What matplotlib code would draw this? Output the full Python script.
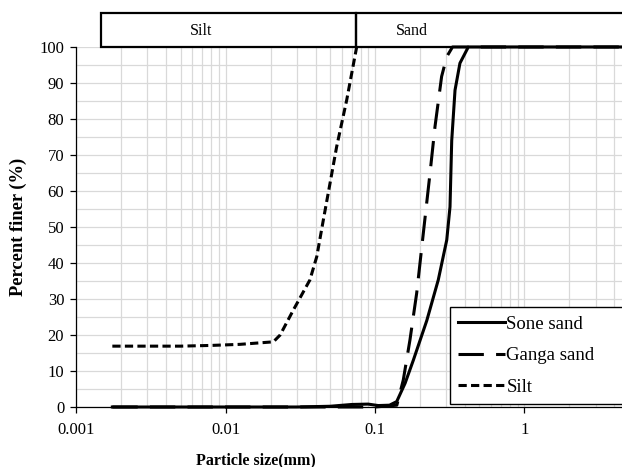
import matplotlib
matplotlib.use("Agg")
import matplotlib.pyplot as plt
from matplotlib.patches import Rectangle
from matplotlib.ticker import FixedLocator, LogLocator, NullFormatter

# grain size distribution curves
silt_size = [0.00175, 0.003, 0.005, 0.008, 0.0125, 0.0209, 0.0232, 0.0284,
             0.0367, 0.0408, 0.0451, 0.050, 0.0554, 0.0647, 0.0754]
silt_finer = [16.9, 16.9, 16.9, 17.1, 17.4, 18.1, 20.0, 26.9,
              35.3, 41.8, 51.9, 62.1, 72.3, 85.3, 100.0]

sone_size = [0.00175, 0.03, 0.05, 0.07, 0.09, 0.105, 0.125, 0.1397, 0.159,
             0.1805, 0.222, 0.265, 0.302, 0.3175, 0.326, 0.343, 0.370,
             0.421, 1.0, 2.0, 4.75]
sone_finer = [0.0, 0.0, 0.2, 0.7, 0.8, 0.4, 0.5, 1.5, 6.6,
              13.0, 24.0, 35.3, 46.4, 55.6, 74.0, 88.0, 95.5,
              100.0, 100.0, 100.0, 100.0]

ganga_size = [0.00175, 0.05, 0.1, 0.14, 0.1546, 0.1713, 0.190, 0.2104,
              0.2333, 0.252, 0.279, 0.302, 0.33, 1.0, 4.75]
ganga_finer = [0.0, 0.0, 0.0, 0.5, 7.5, 18.6, 31.6, 48.2,
               64.9, 77.9, 91.8, 97.3, 100.0, 100.0, 100.0]

x_ticks = [0.001, 0.01, 0.1, 1]
x_tick_labels = ["0.001", "0.01", "0.1", "1"]
y_ticks = list(range(0, 101, 10))

# soil classes drawn above the plot: (name, lower size, upper size, label x)
classes = [("Silt", 0.00147, 0.075, 0.00686),
           ("Sand", 0.075, 10.0, 0.1767)]

plt.rcParams["font.family"] = ["Liberation Serif", "DejaVu Serif"]
plt.rcParams["font.size"] = 11

fig = plt.figure(figsize=(6.22, 4.67), dpi=100)
ax = fig.add_axes([0.1222, 0.1285, 0.8778, 0.7709])

ax.set_xscale("log")
ax.set_xlim(0.001, 4.49)
ax.set_ylim(0, 100)

ax.plot(sone_size, sone_finer, color="black", lw=2.2, ls="-",
        label="Sone sand", clip_on=False, zorder=4)
ax.plot(ganga_size, ganga_finer, color="black", lw=2.2, dashes=(8.3, 4.0),
        label="Ganga sand", clip_on=False, zorder=4)
ax.plot(silt_size, silt_finer, color="black", lw=2.2, dashes=(2.7, 1.4),
        label="Silt", clip_on=False, zorder=4)

# grid
ax.xaxis.set_major_locator(FixedLocator(x_ticks))
ax.xaxis.set_minor_locator(LogLocator(base=10, subs=range(2, 10)))
ax.xaxis.set_minor_formatter(NullFormatter())
ax.set_xticklabels(x_tick_labels)
ax.set_yticks(y_ticks)
ax.set_yticks(range(5, 100, 10), minor=True)
ax.grid(True, which="both", color="#d9d9d9", lw=0.9)
ax.set_axisbelow(True)

ax.tick_params(axis="both", which="major", direction="out", length=4.5,
               width=0.9, colors="black", labelsize=12, pad=4)
ax.tick_params(axis="x", which="major", pad=6)
ax.tick_params(axis="both", which="minor", length=0)

for side in ("top", "right"):
    ax.spines[side].set_visible(False)
for side in ("left", "bottom"):
    ax.spines[side].set_linewidth(0.9)

ax.set_xlabel("Particle size(mm)", fontweight="bold", fontsize=11.5)
ax.xaxis.set_label_coords(0.33, -0.125)
ax.set_ylabel("Percent finer (%)", fontweight="bold", fontsize=13.3)
ax.yaxis.set_label_coords(-0.0897, 0.5)

# class boxes above the axes
trans = ax.get_xaxis_transform()
for name, lo, hi, tx in classes:
    ax.add_patch(Rectangle((lo, 1.0), hi - lo, 0.094, transform=trans,
                           fill=False, ec="black", lw=1.6, clip_on=False))
    ax.text(tx, 1.044, name, transform=trans, ha="center", va="center",
            fontsize=11.5)

leg = ax.legend(loc="lower left", bbox_to_anchor=(0.685, 0.008, 0.36, 0.267),
                mode="expand", borderaxespad=0, fancybox=False,
                handlelength=2.5, handletextpad=0.05, labelspacing=0.77,
                borderpad=0.45, fontsize=13.5)
leg.get_frame().set_edgecolor("black")
leg.get_frame().set_linewidth(1.0)
leg.get_frame().set_alpha(1)

fig.savefig("out.png", dpi=100)
